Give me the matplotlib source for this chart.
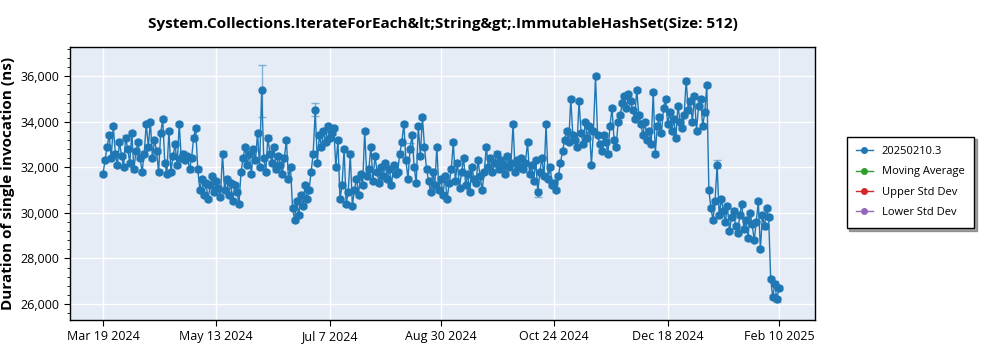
import pandas as pd
import numpy as np
import matplotlib
matplotlib.use("Agg")
import matplotlib.pyplot as plt
from matplotlib.ticker import FuncFormatter, MultipleLocator

plt.rcParams['font.family'] = ['Open Sans', 'DejaVu Sans']

# valores en miles de ns, un punto por dia desde el 19 de marzo de 2024
seg_a = [31.7, 32.3, 32.9, 33.4, 32.4, 33.8, 32.6, 32.1, 33.1, 32.5, 32.0, 33.3, 32.8, 32.2, 33.5, 31.9, 32.7, 33.1, 32.4, 31.8, 32.6]
seg_b = [33.9, 32.9, 34.0, 32.4, 33.2, 32.7, 31.8, 33.5, 34.1, 32.2, 31.7, 33.6, 31.8, 32.5, 33.0, 32.1, 33.9]
seg_c = [32.4, 32.6, 32.3, 32.5, 31.9, 32.4, 33.3, 33.7]
seg_d = [31.9, 31.0, 31.5, 30.8, 31.3, 30.6, 31.2, 31.6, 30.9, 31.4, 31.1, 30.7, 32.6, 31.0, 31.5, 30.8, 31.3, 30.5, 31.2, 30.9, 30.4]
seg_e = [31.8, 32.4, 32.9, 32.1, 32.6, 31.7, 32.8, 32.3, 33.5, 32.0, 35.4, 32.4, 31.8, 33.3, 32.6, 32.2, 32.9, 31.9, 32.5, 32.1, 31.7, 32.4, 33.2, 31.5, 32.0]
seg_f = [30.2, 29.7, 30.5, 29.9, 30.8, 30.3, 31.2, 30.6, 31.0]
seg_g = [31.8, 32.6, 34.5, 32.2, 33.4, 32.9, 33.6, 33.1, 33.8, 33.3, 33.5, 33.7, 32.0, 33.2]
seg_h = [30.6, 31.2, 32.8, 30.4, 30.9, 32.6, 30.3, 31.0, 31.5, 30.8, 31.7, 31.2]
seg_i = [33.6, 31.6, 31.9, 32.9, 31.4, 32.5, 31.8, 31.3, 32.0, 31.6, 32.2, 31.5, 31.9, 31.2, 32.1, 31.7]
seg_j = [31.8, 32.6, 33.1, 33.9, 32.3, 31.5, 32.8, 33.4, 32.0, 31.3, 33.8, 32.5, 34.2, 32.9, 31.9]
seg_k = [31.4, 30.9, 31.8, 31.2, 32.9, 31.0, 31.5, 30.8, 31.6, 30.6, 31.3]
seg_l = [31.9, 33.1, 31.4, 32.2, 31.1, 31.8, 32.4, 31.2, 31.7, 30.9, 32.0, 31.5, 31.3, 32.3, 31.6, 31.0, 31.8]
seg_m = [32.9, 32.0, 32.4, 31.8, 32.2, 32.6, 31.9, 32.3, 32.1, 31.7, 32.5, 32.0, 32.2, 33.9, 31.8, 32.3, 32.0, 32.4, 31.9]
seg_n = [32.2, 33.1, 31.7, 32.1, 31.4, 32.3, 30.9, 31.8, 32.4, 31.6, 33.9, 31.5, 32.0, 31.2]
seg_o = [31.3, 31.0, 31.6, 32.2, 32.7, 33.2, 33.6, 33.1, 35.0, 33.4]
seg_p = [33.2, 32.9, 34.9, 33.5, 33.0, 34.0, 33.3, 33.8, 32.1, 33.6, 36.0, 33.4]
seg_q = [33.0, 32.7, 33.4, 33.1, 32.6, 33.8, 34.6, 33.2, 32.9, 34.0, 34.3]
seg_r = [34.8, 35.1, 34.6, 35.2, 34.9, 34.5, 34.1, 35.4, 34.3, 33.9, 33.4, 34.0, 33.2, 33.6, 33.0, 35.3, 32.6]
seg_s = [33.8, 34.2, 33.5, 34.6, 35.0, 33.9, 34.4, 33.6, 34.1, 33.3, 34.7, 34.0, 33.7, 34.3, 35.8, 34.5, 34.9, 34.0, 35.1, 33.6, 34.7, 35.0, 33.8, 34.4, 35.6]
seg_t = [31.0, 30.2, 29.7, 30.5, 32.1, 29.9, 30.6, 30.1]
seg_u = [29.6, 30.3, 29.2, 29.8, 30.1, 29.4, 29.1, 29.9, 30.4, 29.3, 29.7, 28.9, 30.0, 29.5, 28.8, 29.6, 30.5, 28.4, 29.9, 29.4, 30.2, 29.8]
seg_v = [27.1, 26.3, 26.9, 26.2, 26.7]

valores = (seg_a + seg_b + seg_c + seg_d + seg_e + seg_f + seg_g + seg_h + seg_i + seg_j + seg_k
           + seg_l + seg_m + seg_n + seg_o + seg_p + seg_q + seg_r + seg_s + seg_t + seg_u + seg_v)
valores = np.array(valores) * 1000

fechas = pd.date_range('2024-03-19', periods=len(valores), freq='D')

# barras de error: pequeñas por defecto, algunas grandes (indice: (abajo, arriba))
err_defecto = 90
err_grandes = {77: (1200, 1100), 103: (250, 300), 298: (150, 200), 149: (150, 250), 211: (200, 150)}
err_abajo = np.full(len(valores), err_defecto, dtype=float)
err_arriba = np.full(len(valores), err_defecto, dtype=float)
for i, (lo, hi) in err_grandes.items():
    err_abajo[i] = lo
    err_arriba[i] = hi

ticks_x = ['2024-03-19', '2024-05-13', '2024-07-07', '2024-08-30', '2024-10-24', '2024-12-18', '2025-02-10']
etiquetas_x = ['Mar 19 2024', 'May 13 2024', 'Jul 7 2024', 'Aug 30 2024', 'Oct 24 2024', 'Dec 18 2024', 'Feb 10 2025']

azul = '#1f77b4'

fig = plt.figure(figsize=(10, 3.5), dpi=100)
ax = fig.add_axes([0.07, 0.0857, 0.745, 0.78])
ax.set_facecolor('#E5ECF6')

ax.errorbar(fechas, valores, yerr=[err_abajo, err_arriba], fmt='none',
            ecolor=azul, alpha=0.5, elinewidth=1, capsize=3, zorder=2)
ax.plot(fechas, valores, color=azul, linewidth=1, marker='o', markersize=5, zorder=3)

# series vacias solo para la leyenda
ax.plot([], [], color=azul, marker='o', markersize=4, linewidth=1, label='20250210.3')
ax.plot([], [], color='#2ca02c', marker='o', markersize=4, linewidth=1, label='Moving Average')
ax.plot([], [], color='#d62728', marker='o', markersize=4, linewidth=1, label='Upper Std Dev')
ax.plot([], [], color='#9467bd', marker='o', markersize=4, linewidth=1, label='Lower Std Dev')

ax.set_xlim(pd.Timestamp('2024-03-03'), pd.Timestamp('2025-02-27 12:00'))
ax.set_ylim(25300, 37270)

ax.set_xticks([pd.Timestamp(t) for t in ticks_x])
ax.set_xticklabels(etiquetas_x)
ax.set_yticks([26000, 28000, 30000, 32000, 34000, 36000])
ax.yaxis.set_major_formatter(FuncFormatter(lambda v, p: f'{int(v):,}'))
ax.yaxis.set_minor_locator(MultipleLocator(400))
ax.tick_params(axis='both', labelsize=9, color='black', length=4)
ax.tick_params(axis='y', which='minor', length=2)

ax.grid(True, color='white', linewidth=1)
ax.set_axisbelow(True)
for s in ax.spines.values():
    s.set_color('black')
    s.set_linewidth(1)

ax.set_ylabel('Duration of single invocation (ns)', fontsize=11, fontweight='bold')
ax.yaxis.set_label_coords(-0.074, 0.5)
ax.set_title('System.Collections.IterateForEach&lt;String&gt;.ImmutableHashSet(Size: 512)',
             fontsize=11, fontweight='bold', pad=14)

leg = ax.legend(loc='center left', bbox_to_anchor=(1.035, 0.505), fontsize=8,
                frameon=True, fancybox=False, shadow=True, borderpad=0.85, labelspacing=0.85,
                handlelength=1.5)
leg.get_frame().set_edgecolor('black')
leg.get_frame().set_linewidth(1)

plt.savefig('out.png', dpi=100)
